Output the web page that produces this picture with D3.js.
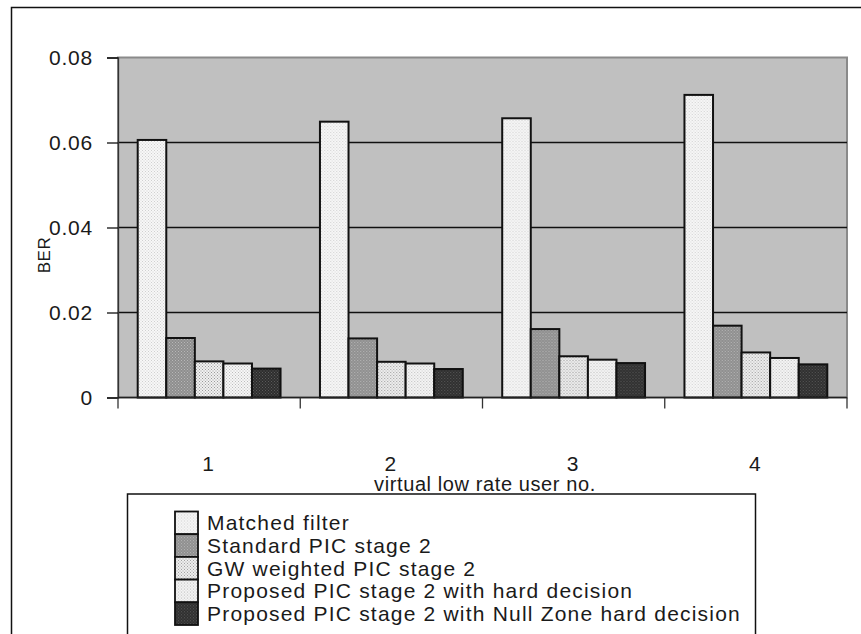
<!DOCTYPE html>
<html>
<head>
<meta charset="utf-8">
<script src="https://cdn.jsdelivr.net/npm/d3@7/dist/d3.min.js"></script>
<style>
  html, body { margin: 0; padding: 0; background: #fff; }
  svg { display: block; }
  text { font-family: "Liberation Sans", Arial, sans-serif; fill: #1a1a1a; }
</style>
</head>
<body>
<svg id="chart" width="861" height="634"></svg>
<script>
// BER per virtual low-rate user for each receiver
const categories = ["1", "2", "3", "4"];
const seriesNames = [
  "Matched filter",
  "Standard PIC stage 2",
  "GW weighted PIC stage 2",
  "Proposed PIC stage 2 with hard decision",
  "Proposed PIC stage 2 with Null Zone hard decision"
];
const matchedFilter = [0.0606, 0.0649, 0.0657, 0.0712];
const standardPIC   = [0.0140, 0.0139, 0.0161, 0.0169];
const gwWeighted    = [0.0085, 0.0084, 0.0097, 0.0106];
const proposedHard  = [0.0080, 0.0080, 0.0089, 0.0093];
const proposedNull  = [0.0068, 0.0067, 0.0081, 0.0078];
const yTicks = [0, 0.02, 0.04, 0.06, 0.08];
const yTickLabels = ["0", "0.02", "0.04", "0.06", "0.08"];
const xTitle = "virtual low rate user no.";
const yTitle = "BER";

const seriesValues = [matchedFilter, standardPIC, gwWeighted, proposedHard, proposedNull];

// fill pattern per series: base colour and dot colour
const fills = [
  { id: "p0", base: "#f7f7f7", dot: "#d0d0d0" },
  { id: "p1", base: "#8e8e8e", dot: "#b8b8b8" },
  { id: "p2", base: "#f0f0f0", dot: "#9a9a9a" },
  { id: "p3", base: "#f6f6f6", dot: "#bcbcbc" },
  { id: "p4", base: "#2e2e2e", dot: "#5a5a5a" }
];

const svg = d3.select("#chart");
const defs = svg.append("defs");
fills.forEach(f => {
  const p = defs.append("pattern")
    .attr("id", f.id).attr("patternUnits", "userSpaceOnUse")
    .attr("width", 3).attr("height", 3);
  p.append("rect").attr("width", 3).attr("height", 3).attr("fill", f.base);
  p.append("rect").attr("x", 0).attr("y", 0).attr("width", 1).attr("height", 1).attr("fill", f.dot);
  p.append("rect").attr("x", 1.5).attr("y", 1.5).attr("width", 1).attr("height", 1).attr("fill", f.dot);
});

// outer chart frame
svg.append("rect")
  .attr("x", 11.5).attr("y", 7.5).attr("width", 880).attr("height", 660)
  .attr("fill", "none").attr("stroke", "#111").attr("stroke-width", 1.5);

const plot = { left: 118, right: 847, top: 57.5, bottom: 397.5 };

const x0 = d3.scaleBand().domain(categories).range([plot.left, plot.right]);
const x1 = d3.scaleBand().domain(d3.range(seriesNames.length))
  .range([0, x0.bandwidth()]).paddingInner(0).paddingOuter(0.69);
const y = d3.scaleLinear().domain([0, 0.08]).range([plot.bottom, plot.top]);

// plot background
svg.append("rect")
  .attr("x", plot.left).attr("y", plot.top)
  .attr("width", plot.right - plot.left).attr("height", plot.bottom - plot.top)
  .attr("fill", "#c0c0c0").attr("stroke", "#8a8a8a").attr("stroke-width", 2);

// horizontal gridlines
svg.append("g").selectAll("line")
  .data(yTicks.filter(t => t > 0 && t < 0.08))
  .join("line")
  .attr("x1", plot.left).attr("x2", plot.right)
  .attr("y1", d => y(d)).attr("y2", d => y(d))
  .attr("stroke", "#111").attr("stroke-width", 1.3);

// bars
const groups = svg.append("g").selectAll("g")
  .data(categories)
  .join("g")
  .attr("transform", d => `translate(${x0(d)},0)`);

groups.selectAll("rect")
  .data((c, ci) => seriesValues.map((vals, si) => ({ si, v: vals[ci] })))
  .join("rect")
  .attr("x", d => x1(d.si))
  .attr("width", x1.bandwidth())
  .attr("y", d => y(d.v))
  .attr("height", d => y(0) - y(d.v))
  .attr("fill", d => `url(#${fills[d.si].id})`)
  .attr("stroke", "#111").attr("stroke-width", 2);

// y axis
const yAxis = d3.axisLeft(y).tickValues(yTicks)
  .tickFormat((d, i) => yTickLabels[i]).tickSize(11).tickPadding(14);
const gy = svg.append("g").attr("transform", `translate(${plot.left},0)`).call(yAxis);
gy.select(".domain").attr("stroke", "#333").attr("stroke-width", 1.3);
gy.selectAll(".tick line").attr("stroke", "#111").attr("stroke-width", 1.3);
gy.selectAll(".tick text")
  .style("font-size", "21px").style("letter-spacing", "0.8px")
  .attr("fill", "#1a1a1a");

// x axis: category ticks on the boundaries
const gx = svg.append("g").attr("transform", `translate(0,${plot.bottom})`);
gx.append("line").attr("x1", plot.left).attr("x2", plot.right)
  .attr("stroke", "#222").attr("stroke-width", 1.5);
const boundaries = categories.map(c => x0(c)).concat([plot.right]);
gx.selectAll("line.tk").data(boundaries).join("line").attr("class", "tk")
  .attr("x1", d => d).attr("x2", d => d).attr("y1", 0).attr("y2", 11)
  .attr("stroke", "#333").attr("stroke-width", 1.3);
gx.selectAll("text").data(categories).join("text")
  .attr("x", d => x0(d) + x0.bandwidth() / 2 - 1)
  .attr("y", 73)
  .attr("text-anchor", "middle")
  .style("font-size", "21px")
  .text(d => d);

// axis titles
svg.append("text")
  .attr("x", 485).attr("y", 491)
  .attr("text-anchor", "middle")
  .style("font-size", "20px").style("letter-spacing", "0.6px")
  .text(xTitle);
svg.append("text")
  .attr("transform", "translate(50,255) rotate(-90)")
  .attr("text-anchor", "middle").style("font-size", "17px")
  .style("letter-spacing", "0.5px")
  .text(yTitle);

// legend
const legend = svg.append("g");
legend.append("rect")
  .attr("x", 127.5).attr("y", 494).attr("width", 628).attr("height", 200)
  .attr("fill", "#fff").attr("stroke", "#111").attr("stroke-width", 1.5);
const rowH = 22.7;
const items = legend.selectAll("g.item").data(seriesNames).join("g").attr("class", "item")
  .attr("transform", (d, i) => `translate(175,${511.5 + i * rowH})`);
items.append("rect")
  .attr("width", 23).attr("height", rowH)
  .attr("fill", (d, i) => `url(#${fills[i].id})`)
  .attr("stroke", "#111").attr("stroke-width", 1.8);
items.append("text")
  .attr("x", 32).attr("y", rowH / 2 + 7.5)
  .style("font-size", "21px").style("letter-spacing", "1.2px")
  .text(d => d);
</script>
</body>
</html>
